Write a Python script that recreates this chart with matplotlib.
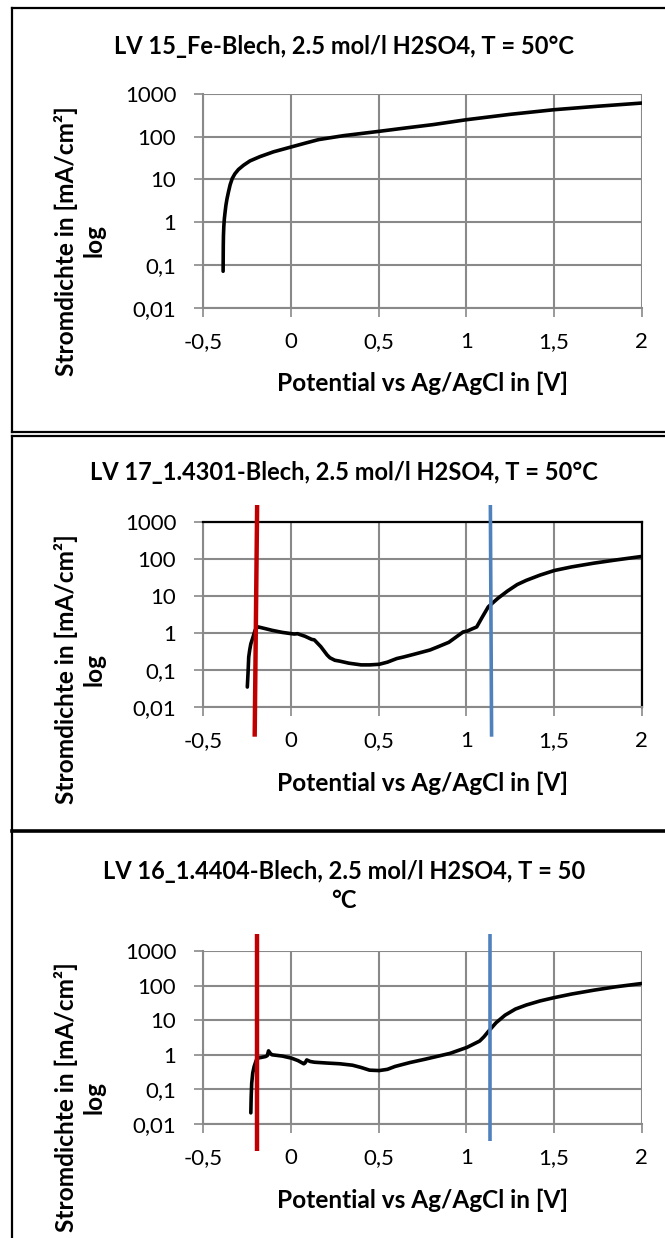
import matplotlib
matplotlib.use("Agg")
import matplotlib.pyplot as plt
from matplotlib.lines import Line2D
from matplotlib.transforms import blended_transform_factory

plt.rcParams['font.family'] = ['Lato', 'DejaVu Sans']

# ---------------- data ----------------
titles = [
    "LV 15_Fe-Blech, 2.5 mol/l H2SO4, T = 50°C",
    "LV 17_1.4301-Blech, 2.5 mol/l H2SO4, T = 50°C",
    "LV 16_1.4404-Blech, 2.5 mol/l H2SO4, T = 50\n°C",
]
xlabel = "Potential vs Ag/AgCl in [V]"
ylabel = "Stromdichte in [mA/cm²]\nlog"

x_ticks = [-0.5, 0, 0.5, 1, 1.5, 2]
x_tick_labels = ["-0,5", "0", "0,5", "1", "1,5", "2"]
y_ticks = [0.01, 0.1, 1, 10, 100, 1000]
y_tick_labels = ["0,01", "0,1", "1", "10", "100", "1000"]

# LV 15 Fe
fe_x = [-0.387, -0.3865, -0.386, -0.385, -0.383, -0.380, -0.376, -0.371, -0.365,
        -0.357, -0.347, -0.335, -0.32, -0.30, -0.27, -0.234, -0.177, -0.1, 0.0,
        0.08, 0.158, 0.3, 0.5, 0.65, 0.81, 1.0, 1.25, 1.5, 1.75, 2.0]
fe_y = [0.072, 0.15, 0.3, 0.5, 0.8, 1.2, 1.7, 2.5, 3.5,
        5.0, 7.5, 10.5, 13.5, 17, 21.5, 27, 34, 44, 57,
        70, 85, 105, 132, 158, 190, 247, 330, 423, 510, 605]

# LV 17 1.4301
s1_x = [-0.249, -0.245, -0.241, -0.235, -0.229, -0.215, -0.205, -0.195, -0.186,
        -0.15, -0.108, -0.05, 0.003, 0.02, 0.037, 0.08, 0.118, 0.133, 0.17,
        0.206, 0.222, 0.25, 0.279, 0.33, 0.40, 0.45, 0.503, 0.55, 0.603,
        0.641, 0.70, 0.792, 0.835, 0.9, 0.982, 1.004, 1.03, 1.059, 1.09,
        1.125, 1.18, 1.234, 1.29, 1.342, 1.42, 1.502, 1.6, 1.729, 1.85, 2.0]
s1_y = [0.034, 0.08, 0.22, 0.35, 0.5, 0.8, 1.16, 1.35, 1.43,
        1.3, 1.16, 1.02, 0.94, 0.92, 0.94, 0.8, 0.66, 0.64, 0.42,
        0.25, 0.21, 0.18, 0.17, 0.15, 0.135, 0.135, 0.14, 0.16, 0.2,
        0.22, 0.26, 0.34, 0.41, 0.55, 1.05, 1.1, 1.25, 1.43, 2.6,
        5.0, 8.5, 13.3, 20, 26, 36, 48, 60, 76, 92, 115]

# LV 16 1.4404
s2_x = [-0.229, -0.227, -0.224, -0.218, -0.21, -0.2, -0.193, -0.18, -0.169,
        -0.145, -0.135, -0.128, -0.118, -0.108, -0.05, 0.003, 0.04, 0.073,
        0.08, 0.09, 0.11, 0.134, 0.2, 0.279, 0.351, 0.40, 0.448, 0.503,
        0.55, 0.593, 0.68, 0.762, 0.907, 1.004, 1.076, 1.1, 1.125, 1.17,
        1.221, 1.28, 1.342, 1.42, 1.502, 1.6, 1.729, 1.85, 2.0]
s2_y = [0.021, 0.06, 0.15, 0.3, 0.46, 0.65, 0.8, 0.82, 0.84,
        0.89, 0.95, 1.3, 1.1, 1.0, 0.92, 0.8, 0.68, 0.55,
        0.58, 0.71, 0.64, 0.61, 0.58, 0.55, 0.5, 0.43, 0.36, 0.35,
        0.38, 0.46, 0.6, 0.74, 1.1, 1.64, 2.5, 3.3, 4.7, 8.5,
        14, 21, 27.5, 36, 45, 57, 74, 92, 115]

series_x = [fe_x, s1_x, s2_x]
series_y = [fe_y, s1_y, s2_y]

# marker lines (potential values) for panels 2 and 3
red_x = [None, (-0.193, -0.207), (-0.193, -0.193)]
blue_x = [None, (1.137, 1.144), (1.137, 1.137)]

# ---------------- layout (pixels) ----------------
W, H = 665, 1238
fig = plt.figure(figsize=(W / 100, H / 100), dpi=100)


def fx(px):
    return px / W


def fy(py):
    return 1 - py / H


ax_left, ax_right = 203.3, 641.7
ax_tb = [(93.7, 308.0), (521.7, 706.7), (951.0, 1124.0)]
title_y = [47, 473, 886]
xlabel_y = [383, 783.3, 1200]
ylabel_cy = [240.7, 669, 1097]
marker_span = [None, ((505, 736.7), (505, 736.7)), ((934, 1150.7), (934, 1140.7))]

grid_c = '#898989'
for i in range(3):
    top, bot = ax_tb[i]
    ax = fig.add_axes([fx(ax_left), fy(bot), fx(ax_right - ax_left), (bot - top) / H])
    ax.set_yscale('log')
    ax.set_xlim(-0.5, 2)
    ax.set_ylim(0.01, 1000)
    ax.plot(series_x[i], series_y[i], color='black', lw=2.6, solid_capstyle='round',
            solid_joinstyle='round', zorder=3)
    ax.set_xticks(x_ticks)
    ax.set_xticklabels(x_tick_labels)
    ax.set_yticks(y_ticks)
    ax.set_yticklabels(y_tick_labels)
    ax.yaxis.set_minor_locator(matplotlib.ticker.NullLocator())
    ax.grid(True, color=grid_c, lw=1.5)
    ax.set_axisbelow(True)
    ax.tick_params(axis='both', which='major', direction='out', length=6.5,
                   width=1.2, color=grid_c, labelsize=16, labelcolor='black')
    ax.tick_params(axis='y', pad=13)
    ax.tick_params(axis='x', pad=11)
    for s in ['left', 'bottom']:
        ax.spines[s].set_color(grid_c)
        ax.spines[s].set_linewidth(1.5)
    if i == 1:
        for s in ['top', 'right']:
            ax.spines[s].set_color('black')
            ax.spines[s].set_linewidth(1.6)
    else:
        for s in ['top', 'right']:
            ax.spines[s].set_visible(False)

    if red_x[i] is not None:
        pix_h = bot - top
        tr = blended_transform_factory(ax.transData, ax.transAxes)
        (rt, rb), (bt, bb) = marker_span[i]
        ax.plot(red_x[i], [(bot - rt) / pix_h, (bot - rb) / pix_h], color='#C00000',
                lw=3.2, transform=tr, clip_on=False, zorder=4, solid_capstyle='butt')
        ax.plot(blue_x[i], [(bot - bt) / pix_h, (bot - bb) / pix_h], color='#4F81BD',
                lw=2.6, transform=tr, clip_on=False, zorder=4, solid_capstyle='butt')

    fig.text(fx(344), fy(title_y[i]), titles[i], ha='center', va='center',
             fontsize=17, fontweight='bold', linespacing=1.3)
    fig.text(fx(422.5), fy(xlabel_y[i]), xlabel, ha='center', va='center',
             fontsize=17.6, fontweight='bold')
    fig.text(fx(79.5), fy(ylabel_cy[i]), ylabel, ha='center', va='center',
             rotation=90, fontsize=17.6, fontweight='bold', linespacing=1.25,
             multialignment='center')

# panel borders
def hline(y, x0, x1, lw):
    fig.add_artist(Line2D([fx(x0), fx(x1)], [fy(y), fy(y)], color='black', lw=lw,
                          transform=fig.transFigure))


def vline(x, y0, y1, lw):
    fig.add_artist(Line2D([fx(x), fx(x)], [fy(y0), fy(y1)], color='black', lw=lw,
                          transform=fig.transFigure))


hline(8.3, 11.7, 665, 1.6)
hline(431.7, 11.7, 665, 1.6)
hline(436.0, 11.7, 665, 1.6)
hline(831.0, 11.7, 665, 2.6)
vline(11.7, 8.3, 431.7, 1.6)
vline(11.7, 436.0, 1238, 1.6)

fig.savefig("out.png", dpi=100)
